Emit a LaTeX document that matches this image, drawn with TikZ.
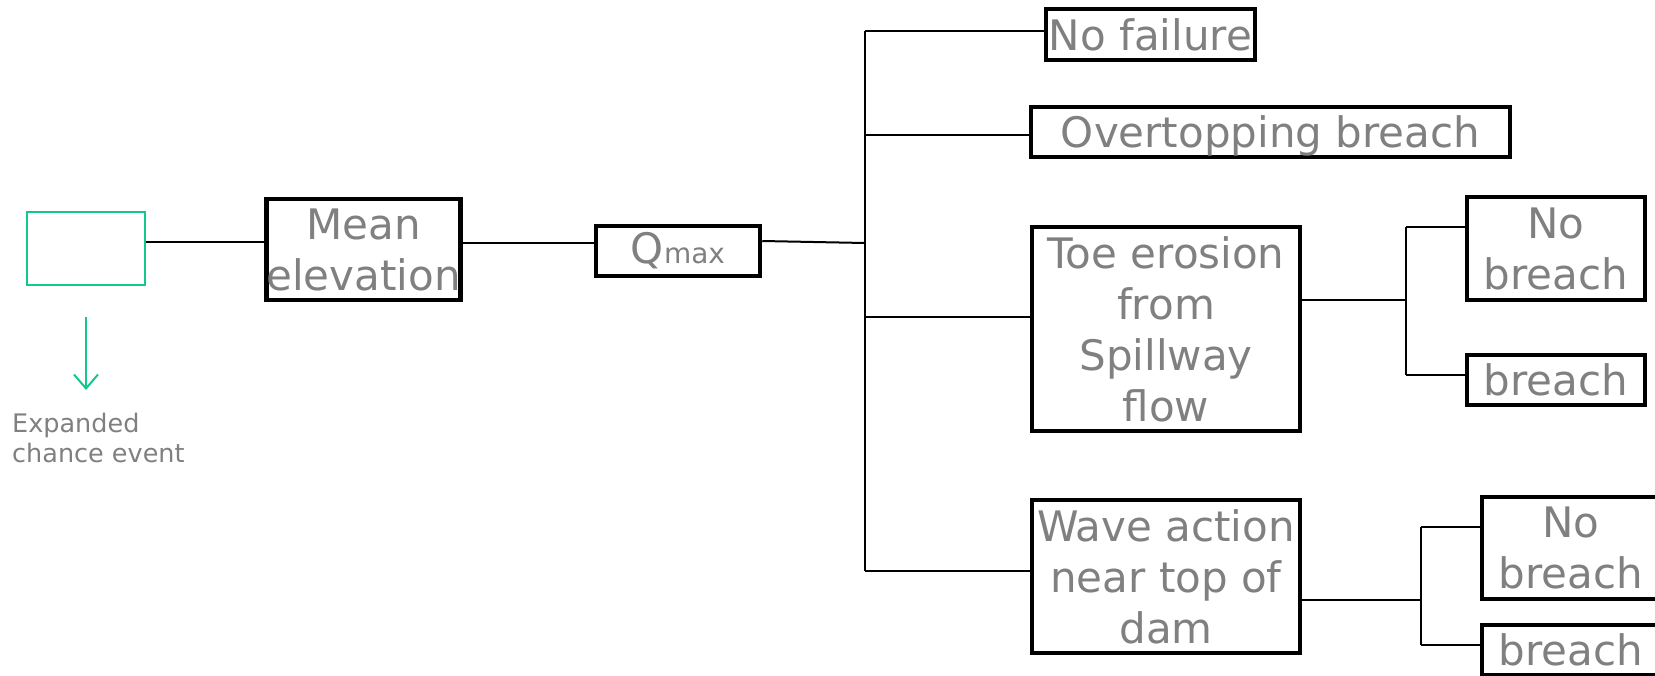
\documentclass[tikz,border=0pt]{standalone}
\usepackage{fontspec}
\setmainfont{DejaVu Sans}
\usetikzlibrary{arrows.meta}
\definecolor{evgreen}{RGB}{20,200,140}
\definecolor{txtgray}{RGB}{128,128,128}
\begin{document}
\begin{tikzpicture}[x=1pt,y=-1pt,
  box/.style={draw=black, line width=4.5pt, rectangle, inner sep=0pt, align=center,
    text=txtgray, font=\fontsize{42}{51}\selectfont},
  oneline/.style={text depth=0pt},
  conn/.style={draw=black, line width=2pt},
  chance/.style={draw=evgreen, line width=2pt, rectangle, inner sep=0pt}]
\path[use as bounding box] (0,0) rectangle (1655,675);
\clip (0,0) rectangle (1655,675);

% nodes
\node[chance, minimum width=118pt, minimum height=73pt] (green) at (86,248.5) {};
\node[box, minimum width=193pt, minimum height=101pt] (mean) at (363.5,249.5) {Mean\\elevation};
\node[box, minimum width=164pt, minimum height=50pt] (qmax) at (678,251) {Q{\fontsize{28}{34}\selectfont max}};
\node[box, oneline, minimum width=209pt, minimum height=51pt] (nf) at (1150.5,34.5) {No failure};
\node[box, oneline, minimum width=479pt, minimum height=50pt] (ot) at (1270.5,132) {Overtopping breach};
\node[box, minimum width=268pt, minimum height=204pt] (toe) at (1166,329) {Toe erosion\\from\\Spillway\\flow};
\node[box, minimum width=268pt, minimum height=153pt] (wave) at (1166,576.5) {Wave action\\near top of\\dam};
\node[box, minimum width=178pt, minimum height=103pt] (nb1) at (1556,248.5) {No\\breach};
\node[box, oneline, minimum width=178pt, minimum height=50pt] (b1) at (1556,380) {breach};
\node[box, minimum width=178pt, minimum height=102pt] (nb2) at (1571,548) {No\\breach};
\node[box, oneline, minimum width=178pt, minimum height=50pt] (b2) at (1571,650) {breach};

\node[anchor=base west, align=left, text=txtgray, font=\fontsize{25.5}{30}\selectfont, inner sep=0pt] (legend) at (12,462) {Expanded\\chance event};

% helper coordinates
\coordinate (r0) at (0,241);
\coordinate (r1) at (0,242);
\coordinate (r2) at (0,243);
\coordinate (tq) at (865,243);
\coordinate (ttop) at (865,31);
\coordinate (t2) at (865,135);
\coordinate (t3) at (865,317);
\coordinate (tbot) at (865,571);
\coordinate (s1) at (1406,300);
\coordinate (s1top) at (1406,227);
\coordinate (s1bot) at (1406,375);
\coordinate (s2) at (1421,600);
\coordinate (s2top) at (1421,527);
\coordinate (s2bot) at (1421,645);
\coordinate (a1) at (86,317);
\coordinate (a2) at (86,390);

% connectors
\draw[conn] (green.east |- r1) -- (mean.west |- r1);
\draw[conn] (mean.east |- r2) -- (qmax.west |- r2);
\draw[conn] (qmax.east |- r0) -- (tq);
\draw[conn] (ttop) -- (tbot);
\draw[conn] (ttop) -- (nf.west |- ttop);
\draw[conn] (t2) -- (ot.west |- t2);
\draw[conn] (t3) -- (toe.west |- t3);
\draw[conn] (tbot) -- (wave.west |- tbot);
\draw[conn] (toe.east |- s1) -- (s1);
\draw[conn] (s1top) -- (s1bot);
\draw[conn] (s1top) -- (nb1.west |- s1top);
\draw[conn] (s1bot) -- (b1.west |- s1bot);
\draw[conn] (wave.east |- s2) -- (s2);
\draw[conn] (s2top) -- (s2bot);
\draw[conn] (s2top) -- (nb2.west |- s2top);
\draw[conn] (s2bot) -- (b2.west |- s2bot);

\draw[draw=evgreen, line width=2pt, -{Straight Barb[length=14pt,width=24pt]}] (a1) -- (a2);
\end{tikzpicture}
\end{document}
